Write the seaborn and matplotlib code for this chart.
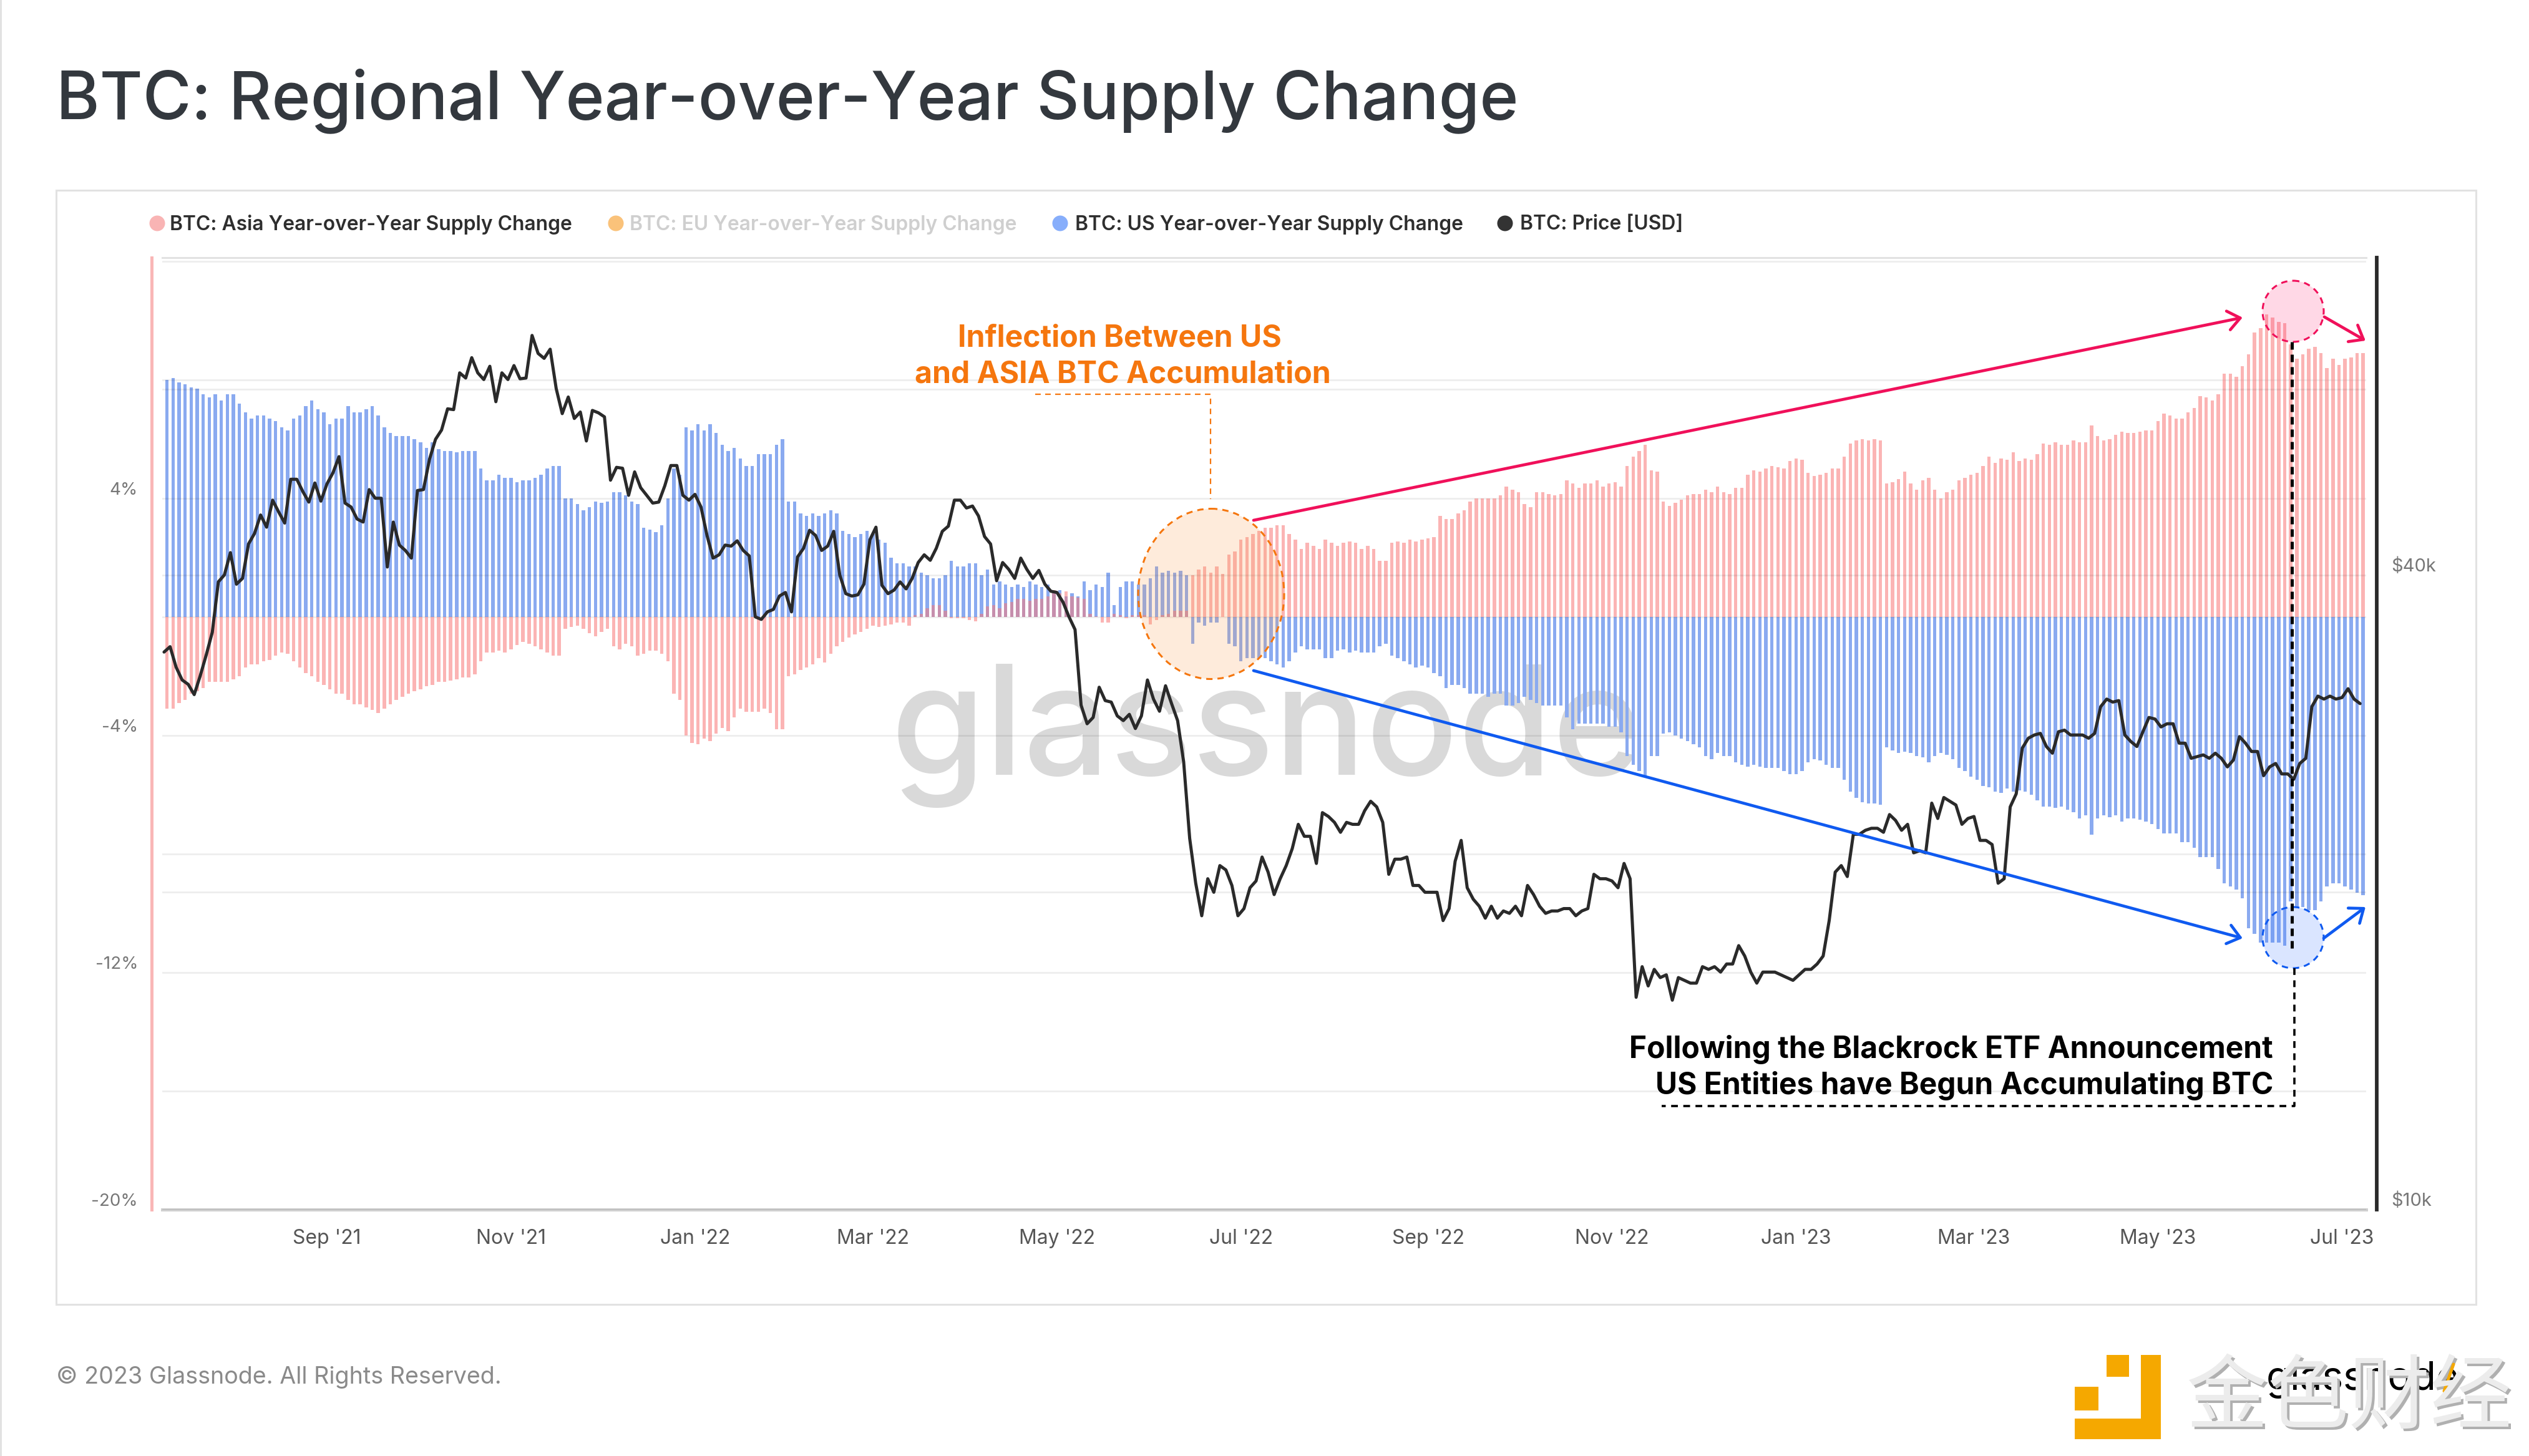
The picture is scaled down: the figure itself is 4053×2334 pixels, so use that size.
import numpy as np, pandas as pd
import matplotlib
matplotlib.use("Agg")
import matplotlib.pyplot as plt
import matplotlib.dates as mdates
import matplotlib.patches as mp
import matplotlib.lines as ml
import matplotlib.transforms as mt
import seaborn as sns

TITLE = "BTC: Regional Year-over-Year Supply Change"
LEGEND = ["BTC: Asia Year-over-Year Supply Change", "BTC: EU Year-over-Year Supply Change",
          "BTC: US Year-over-Year Supply Change", "BTC: Price [USD]"]
BAR_START = "2021-07-10"
PRICE_START = "2021-07-09"
XTICKS = ["2021-09-01","2021-11-01","2022-01-01","2022-03-01","2022-05-01","2022-07-01",
          "2022-09-01","2022-11-01","2023-01-01","2023-03-01","2023-05-01","2023-07-01"]
XLABELS = ["Sep '21","Nov '21","Jan '22","Mar '22","May '22","Jul '22",
           "Sep '22","Nov '22","Jan '23","Mar '23","May '23","Jul '23"]

# values read every second day, percent
asia = [-3.1,-3.1,-2.9,-2.8,-2.6,-2.5,-2.4,-2.2,-2.2,-2.2,
 -2.2,-2.1,-2.0,-1.7,-1.6,-1.6,-1.5,-1.45,-1.3,-1.2,
 -1.25,-1.5,-1.7,-1.9,-2.0,-2.2,-2.3,-2.45,-2.6,-2.6,
 -2.8,-2.95,-2.95,-3.05,-3.15,-3.25,-3.1,-2.95,-2.8,-2.7,
 -2.6,-2.5,-2.45,-2.35,-2.3,-2.2,-2.2,-2.15,-2.1,-2.05,
 -2.05,-1.95,-1.5,-1.2,-1.2,-1.15,-1.2,-1.1,-0.95,-0.85,
 -0.9,-1.0,-1.1,-1.2,-1.3,-1.3,-0.4,-0.35,-0.3,-0.4,
 -0.55,-0.65,-0.5,-0.4,-1.0,-1.1,-0.9,-1.0,-1.3,-1.25,
 -1.15,-1.15,-1.25,-1.5,-2.6,-2.8,-4.0,-4.25,-4.3,-4.1,
 -4.2,-3.95,-3.75,-3.85,-3.4,-3.1,-3.2,-3.2,-3.2,-3.1,
 -3.25,-3.8,-3.8,-2.0,-1.95,-1.8,-1.7,-1.6,-1.4,-1.55,
 -1.25,-1.0,-0.85,-0.7,-0.6,-0.5,-0.4,-0.3,-0.35,-0.3,
 -0.25,-0.2,-0.2,-0.3,0.05,0.1,0.3,0.4,0.4,0.2,
 -0.05,-0.05,-0.05,-0.1,-0.15,0.1,0.35,0.4,0.3,0.45,
 0.5,0.6,0.6,0.55,0.6,0.6,0.7,0.9,0.8,0.85,
 0.7,0.65,0.6,0.1,0.02,-0.2,-0.2,0.1,0.05,-0.05,
 0.05,0.05,0.05,-0.25,-0.1,0.05,0.1,0.2,0.2,0.2,
 1.4,1.6,1.7,1.5,1.7,1.45,2.1,2.2,2.6,2.7,
 2.8,2.9,3.0,3.0,3.1,3.1,2.8,2.6,2.3,2.5,
 2.4,2.3,2.6,2.5,2.4,2.5,2.55,2.5,2.3,2.4,
 2.3,1.9,1.9,2.5,2.55,2.5,2.6,2.55,2.6,2.65,
 2.7,3.4,3.3,3.3,3.5,3.6,3.9,4.0,4.0,4.0,
 4.0,4.1,4.4,4.3,4.2,3.8,3.7,4.2,4.2,4.15,
 4.1,4.15,4.6,4.5,4.35,4.5,4.5,4.6,4.4,4.5,
 4.55,4.4,5.1,5.4,5.6,5.8,4.95,4.9,3.9,3.75,
 3.85,3.95,4.1,4.15,4.15,4.3,4.2,4.4,4.2,4.15,
 4.35,4.35,4.8,4.95,4.9,5.0,5.1,5.05,5.0,5.25,
 5.35,5.3,4.85,4.75,4.8,4.85,5.0,5.0,5.4,5.85,
 5.95,6.0,5.95,6.0,5.95,4.5,4.55,4.65,4.9,4.5,
 4.3,4.6,4.7,4.3,4.0,4.2,4.3,4.6,4.7,4.8,
 4.85,5.1,5.4,5.2,5.35,5.3,5.55,5.25,5.35,5.3,
 5.5,5.85,5.8,5.9,5.8,5.8,5.95,5.9,5.9,6.45,
 6.1,5.95,6.0,6.15,6.25,6.2,6.2,6.25,6.3,6.3,
 6.6,6.85,6.8,6.7,6.7,6.9,7.05,7.45,7.4,7.3,
 7.5,8.2,8.2,8.1,8.45,8.85,9.6,9.75,10.2,10.1,
 9.95,9.9,9.2,8.7,8.85,9.05,9.1,8.9,8.4,8.7,
 8.5,8.7,8.75,8.9,8.9]

us = [8.0,8.05,7.9,7.85,7.75,7.7,7.5,7.4,7.5,7.3,
 7.5,7.5,7.2,6.9,6.7,6.8,6.8,6.7,6.6,6.4,
 6.3,6.7,6.8,7.1,7.3,7.0,6.9,6.5,6.7,6.7,
 7.1,6.9,6.9,7.0,7.1,6.8,6.4,6.2,6.1,6.1,
 6.1,6.0,5.9,5.7,5.9,5.65,5.6,5.6,5.55,5.6,
 5.6,5.6,5.0,4.6,4.6,4.8,4.7,4.7,4.55,4.6,
 4.6,4.7,4.8,5.0,5.1,5.1,4.0,4.0,3.8,3.6,
 3.7,3.9,3.85,3.9,4.2,4.2,4.1,3.9,3.8,3.0,
 2.95,2.85,3.1,4.0,5.0,4.8,6.4,6.3,6.5,6.3,
 6.5,6.2,5.8,5.6,5.7,5.35,5.1,5.1,5.5,5.5,
 5.5,5.8,6.0,3.9,3.9,3.5,3.4,3.5,3.4,3.5,
 3.6,3.5,2.9,2.8,2.7,2.8,2.9,2.8,2.6,2.5,
 2.0,1.8,1.8,1.7,1.7,1.5,1.4,1.3,1.3,1.4,
 1.9,1.7,1.7,1.8,1.8,1.4,1.6,1.1,1.2,1.1,
 1.0,1.1,1.0,1.2,1.1,1.0,1.1,0.8,0.9,0.7,
 0.8,0.7,1.2,0.9,1.1,1.0,1.5,0.4,1.0,1.2,
 1.2,1.1,1.1,1.3,1.7,1.5,1.55,1.5,1.55,1.4,
 -0.9,-0.2,-0.3,-0.2,-0.2,0.0,-0.9,-1.0,-1.5,-1.4,
 -1.4,-1.4,-1.4,-1.5,-1.6,-1.7,-1.5,-1.2,-1.0,-1.1,
 -1.1,-1.1,-1.4,-1.4,-1.15,-1.1,-1.2,-1.15,-1.2,-1.2,
 -1.2,-1.0,-0.9,-1.3,-1.4,-1.5,-1.6,-1.7,-1.65,-1.7,
 -1.9,-2.0,-2.4,-2.3,-2.3,-2.4,-2.6,-2.6,-2.6,-2.7,
 -2.6,-2.6,-3.0,-3.0,-2.9,-2.7,-2.8,-2.9,-3.0,-3.0,
 -3.0,-3.0,-3.4,-3.8,-3.6,-3.6,-3.6,-3.6,-3.6,-3.7,
 -3.7,-3.9,-4.7,-5.0,-5.2,-5.4,-4.7,-4.7,-3.95,-3.9,
 -4.0,-4.1,-4.2,-4.3,-4.4,-4.7,-4.8,-4.6,-4.7,-4.7,
 -4.9,-5.0,-5.05,-5.0,-5.05,-5.1,-5.1,-5.1,-5.2,-5.3,
 -5.3,-5.2,-4.9,-4.8,-4.85,-5.0,-5.1,-5.1,-5.5,-5.9,
 -6.1,-6.25,-6.3,-6.3,-6.35,-4.4,-4.5,-4.6,-4.55,-4.6,
 -4.7,-4.75,-4.9,-4.7,-4.6,-4.65,-4.8,-5.1,-5.2,-5.4,
 -5.5,-5.7,-5.75,-5.9,-5.95,-5.8,-5.9,-5.85,-5.9,-6.0,
 -6.2,-6.4,-6.4,-6.45,-6.4,-6.5,-6.6,-6.8,-6.7,-7.35,
 -6.8,-6.7,-6.75,-6.7,-6.9,-6.8,-6.8,-6.85,-6.9,-7.0,
 -7.15,-7.3,-7.3,-7.3,-7.6,-7.6,-7.8,-8.1,-8.1,-8.1,
 -8.5,-9.0,-9.1,-9.2,-9.5,-10.5,-10.7,-11.0,-11.0,-11.0,
 -11.0,-11.1,-9.6,-9.8,-9.8,-9.9,-9.9,-9.6,-9.1,-9.0,
 -9.0,-9.1,-9.2,-9.3,-9.4]

# price, thousand USD, every second day
price_k = [33.8,34.2,32.7,31.8,31.5,30.8,32.1,33.6,35.3,39.4,40.0,42.0,
 39.2,39.7,42.8,43.8,45.6,44.4,47.1,45.9,44.8,49.3,49.3,48.0,46.9,48.9,47.0,
 48.8,50.0,51.8,46.8,46.4,45.2,44.9,48.2,47.3,47.3,40.7,44.9,42.7,42.2,41.5,
 48.1,48.2,51.5,53.8,54.9,57.5,57.4,62.2,61.5,64.3,62.2,61.3,63.1,58.4,62.2,61.3,
 63.2,61.4,61.5,67.5,64.9,64.2,65.5,60.1,56.9,59.0,56.3,57.1,53.6,57.3,57.0,
 56.5,49.2,50.6,50.5,47.6,50.1,48.4,47.6,46.8,46.9,48.6,50.8,50.8,47.6,47.1,
 47.7,46.4,43.6,41.5,41.8,42.7,42.6,43.1,42.2,41.7,36.5,36.3,36.9,37.1,38.2,38.5,
 36.9,41.6,42.4,44.1,43.6,42.2,42.6,44.0,40.0,38.4,38.2,38.3,39.2,43.2,
 44.4,39.1,38.4,38.7,39.4,38.8,39.7,41.1,41.8,41.3,42.4,44.0,44.5,47.1,47.1,
 46.3,46.5,45.5,43.5,42.8,39.5,41.1,40.5,39.7,41.5,40.5,39.7,40.4,39.2,38.6,
 38.5,37.7,36.5,35.5,30.1,28.9,29.3,31.3,30.4,30.3,29.4,29.1,29.5,28.6,29.4,31.8,
 30.5,29.7,31.4,30.2,29.1,26.6,22.5,20.4,19.0,20.6,20.0,21.2,21.0,20.3,19.0,
 19.3,20.2,20.5,21.6,20.9,19.9,20.6,21.2,22.0,23.2,22.6,22.6,21.3,23.8,23.6,
 23.3,22.8,23.3,23.2,23.2,23.9,24.4,24.1,23.3,20.8,21.5,21.5,21.6,20.3,20.3,20.0,
 20.0,20.0,18.8,19.3,21.4,22.4,20.2,19.7,19.4,18.9,19.4,18.9,19.2,19.1,19.4,
 19.0,20.3,19.9,19.4,19.1,19.2,19.2,19.3,19.3,19.0,19.2,19.3,20.8,20.6,20.6,
 20.5,20.2,21.3,20.6,15.9,17.0,16.3,16.9,16.6,16.7,15.8,16.6,16.5,16.4,16.4,
 17.0,16.9,17.0,16.8,17.1,17.1,17.8,17.4,16.8,16.4,16.8,16.8,16.8,16.7,16.6,16.5,
 16.7,16.9,16.9,17.1,17.4,18.8,20.9,21.2,20.7,22.7,22.7,22.9,23.0,23.0,22.8,
 23.7,23.4,22.9,23.2,21.8,21.9,21.8,24.3,23.5,24.6,24.4,24.2,23.2,23.5,
 23.6,22.4,22.4,22.2,20.4,20.6,24.1,24.8,27.4,28.0,28.2,28.3,27.5,27.1,28.4,28.5,
 28.2,28.2,28.2,28.0,28.3,30.0,30.5,30.3,30.4,28.2,27.8,27.5,28.4,29.3,29.2,
 28.7,28.9,28.9,27.7,27.7,26.8,26.9,27.0,26.8,27.1,26.8,26.3,26.7,28.1,27.7,
 27.2,27.2,25.8,26.3,26.5,25.9,25.9,25.6,26.5,26.8,30.0,30.7,30.5,30.7,30.5,
 30.6,31.2,30.5,30.2]

if not (len(asia) == len(us) == len(price_k)):
    raise SystemExit(f"lengths {len(asia)} {len(us)} {len(price_k)}")

W, H = 4053, 2334
sns.set_theme(style="white")
plt.rcParams["font.family"] = ["Inter", "DejaVu Sans"]
fig = plt.figure(figsize=(W/100, H/100), dpi=100, facecolor="white")
T = mt.Affine2D().scale(1, -1).translate(0, H)   # page layout in image pixels

L, R, TOP, BOT = 260, 3792, 413, 1939
ax = fig.add_axes([L/W, 1-BOT/H, (R-L)/W, (BOT-TOP)/H])
ax.patch.set_alpha(0)

def days(start, n):
    return mdates.date2num(pd.date_range(start, periods=n, freq="2D"))

d = days(BAR_START, len(us))
BLUE, PINK = "#8AAAF0", "#F97777"
sns.barplot(x=d, y=us, ax=ax, native_scale=True, color=BLUE, saturation=1, width=0.56,
            errorbar=None, linewidth=0, zorder=2)
sns.barplot(x=d, y=asia, ax=ax, native_scale=True, color=PINK, saturation=1, width=0.56, alpha=0.55,
            errorbar=None, linewidth=0, zorder=3)
SEP1 = mdates.date2num(pd.Timestamp("2021-09-01"))
ax.set_xlim(SEP1 - 54.6, SEP1 + 676)
ax.set_ylim(-20, 12.12)
ax.set_xlabel(""); ax.set_ylabel("")
ax.set_yticks(list(range(-20, 13, 4)))
ax.set_yticklabels([f"{v}%" if v in (-20, -12, -4, 4) else "" for v in range(-20, 13, 4)])
ax.set_xticks(mdates.date2num(pd.to_datetime(XTICKS)))
ax.set_xticklabels(XLABELS, fontsize=23, color="#555555")
ax.tick_params(axis="y", length=0, pad=16, labelsize=20, labelcolor="#777777")
ax.tick_params(axis="x", length=19, width=0.8, color="#dddddd", pad=3)
ax.grid(True, axis="y", color="#000000", alpha=0.07, lw=2.0, zorder=5)
ax.grid(False, axis="x")
ax.set_axisbelow(False)
for s in ("left", "right", "top", "bottom"):
    ax.spines[s].set_visible(False)
ax.spines["left"].set_visible(True)
ax.spines["left"].set_color("#F9B6B6"); ax.spines["left"].set_linewidth(3.6)
ax.spines["left"].set_position(("outward", 12))
ax.spines["bottom"].set_visible(True)
ax.spines["bottom"].set_color("#cfcfcf"); ax.spines["bottom"].set_linewidth(3.6)
ax.spines["top"].set_visible(True)
ax.spines["top"].set_color("#e2e2e2"); ax.spines["top"].set_linewidth(2.2)

ax2 = ax.twinx()
ax2.patch.set_alpha(0)
sns.lineplot(x=days(PRICE_START, len(price_k)), y=np.array(price_k)*1000, ax=ax2,
             color="#2a2a2a", lw=3.6, errorbar=None, zorder=6)
ax2.set_yscale("log")
ax2.set_ylim(10000, 80000)
ax2.set_xlim(ax.get_xlim())
ax2.set_ylabel("")
ax2.set_yticks([10000, 20000, 40000, 60000])
ax2.set_yticklabels(["$10k", "", "$40k", ""])
ax2.minorticks_off()
ax2.tick_params(axis="y", length=0, pad=17, which="both", labelsize=21, labelcolor="#777777")
ax2.grid(True, axis="y", color="#000000", alpha=0.07, lw=2.0)
ax2.set_axisbelow(False)
for s in ("left", "top", "bottom"):
    ax2.spines[s].set_visible(False)
ax2.spines["right"].set_visible(True)
ax2.spines["right"].set_color("#2a2a2a"); ax2.spines["right"].set_linewidth(4.2)
ax2.spines["right"].set_position(("outward", 12))
for a_ in (ax, ax2):
    for t in a_.get_yticklabels():
        t.set_verticalalignment("bottom")

def add(a):
    fig.add_artist(a); return a
def txt(x, y, s, **k):
    k.setdefault("va", "center")
    return fig.text(x, y, s, transform=T, **k)
def line(xs, ys, c, lw, dash=None, z=7):
    l = ml.Line2D(xs, ys, transform=T, color=c, lw=lw, zorder=z, solid_capstyle="round")
    if dash:
        l.set_linestyle((0, dash)); l.set_dash_capstyle("butt")
    add(l)

# chart card and page edge
add(mp.Rectangle((90, 305), 3878, 1786, transform=T, fc="none", ec="#e2e2e2", lw=2.2, zorder=-3))
add(mp.Rectangle((0, 0), 3, H, transform=T, fc="#e2e2e2", ec="none", zorder=-3))

# title, footer
txt(90, 162, TITLE, fontsize=76.3, color="#33383e", weight="medium", ha="left")
txt(90, 2208, "© 2023 Glassnode. All Rights Reserved.", fontsize=27.1, color="#8a8a8a", ha="left")

# watermark
txt(2030, 1242, "glassnode", fontsize=176, color="#d9d9d9", ha="center", va="baseline", family="Inter", weight="medium", zorder=-2)

# legend
leg = [(252, 272, "#F9B4B4", "#2e2e2e", LEGEND[0]), (987, 1009, "#FAC27A", "#cfcfcf", LEGEND[1]),
       (1699, 1723, "#87AEFB", "#2e2e2e", LEGEND[2]), (2412, 2436, "#333333", "#2e2e2e", LEGEND[3])]
for dx, tx, c, tc, s in leg:
    add(mp.Ellipse((dx, 358), 25, 25, transform=T, fc=c, ec="none", zorder=7))
    txt(tx, 360, s, fontsize=22.9, color=tc, weight="semibold", ha="left")

# annotations
ORG, RED, BLU = "#F5760E", "#F0105A", "#0F5AF0"
add(mp.Ellipse((1941, 952), 234, 273, transform=T, fc=(0.98, 0.62, 0.30, 0.2), ec=ORG, lw=2.2,
               ls=(0, (3.3, 2.6)), zorder=7))
line([1659, 1940, 1940], [632, 632, 800], ORG, 1.6, (4, 3.2))
txt(1794, 543, "Inflection Between US", fontsize=34.7, color=ORG, weight="bold", ha="center")
txt(1799, 600, "and ASIA BTC Accumulation", fontsize=34.7, color=ORG, weight="bold", ha="center")

for a, b, c in [((2009, 834), (3594, 509), RED), ((3725, 508), (3791, 546), RED),
                ((2009, 1075), (3594, 1504), BLU), ((3724, 1504), (3791, 1454), BLU)]:
    add(mp.FancyArrowPatch(a, b, transform=T, arrowstyle="->,head_length=14,head_width=11", mutation_scale=1,
                           color=c, lw=3.4, shrinkA=0, shrinkB=0, zorder=8))
add(mp.Circle((3675, 499), 49, transform=T, fc=(1, 0.05, 0.4, 0.16), ec=RED, lw=2.2, ls=(0, (3.3, 2.6)), zorder=7))
add(mp.Circle((3675, 1503), 49, transform=T, fc=(0.2, 0.45, 1, 0.18), ec=BLU, lw=2.2, ls=(0, (3.3, 2.6)), zorder=7))

line([3673, 3673], [548, 1520], "black", 3.6, (2.4, 1.6), z=8)
line([3677, 3677, 2663], [1552, 1773, 1773], "black", 2.6, (3.0, 2.4), z=8)
txt(3643, 1683, "Following the Blackrock ETF Announcement", fontsize=34.5, color="black", weight="bold", ha="right")
txt(3643, 1740, "US Entities have Begun Accumulating BTC", fontsize=34.5, color="black", weight="bold", ha="right")

# corner marks
txt(3632, 2227, "glassnode", fontsize=46, color="black", ha="left", va="baseline", family="Inter", zorder=7)
GOLD = "#F5A800"
for x0, x1, y0, y1 in [(3431, 3463, 2172, 2307), (3325, 3463, 2274, 2307), (3376, 3412, 2172, 2207), (3325, 3363, 2223, 2261)]:
    add(mp.Rectangle((x0, y0), x1-x0, y1-y0, transform=T, fc=GOLD, ec="none", zorder=9))
line([3917, 3932], [2230, 2187], GOLD, 3.6, z=9)
cjk = ["Noto Sans CJK SC", "DejaVu Sans"]
txt(3768, 2247, "金色财经", fontsize=94, color="#b0b0b0", ha="center", family=cjk, zorder=8)
txt(3764, 2243, "金色财经", fontsize=94, color="#ececec", ha="center", family=cjk, zorder=9)

fig.savefig("out.png", dpi=100, facecolor="white")
